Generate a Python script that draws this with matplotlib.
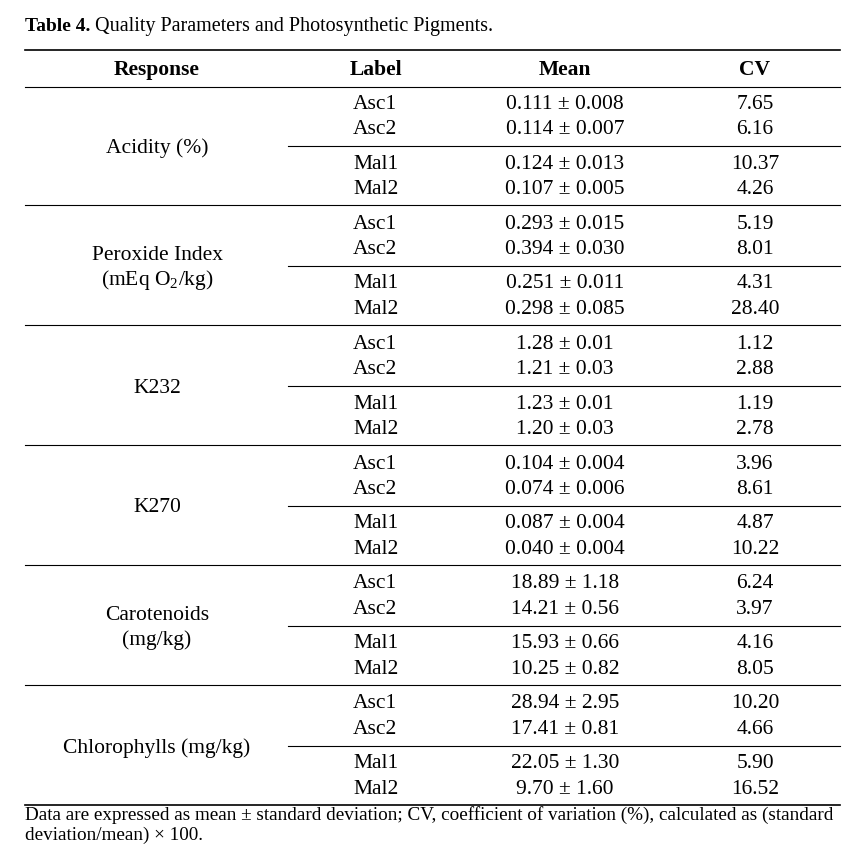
import matplotlib
matplotlib.use("Agg")
import matplotlib.pyplot as plt

plt.rcParams['font.family'] = ['Liberation Serif', 'DejaVu Serif']
plt.rcParams['mathtext.fontset'] = 'custom'
plt.rcParams['mathtext.rm'] = 'Liberation Serif'

responses = [["Acidity (%)"], ["Peroxide Index", "(mEq O$_2$/kg)"], ["K232"], ["K270"],
             ["Carotenoids", "(mg/kg)"], ["Chlorophylls (mg/kg)"]]
labels = ["Asc1", "Asc2", "Mal1", "Mal2"]
means = [
    ["0.111 ± 0.008", "0.114 ± 0.007", "0.124 ± 0.013", "0.107 ± 0.005"],
    ["0.293 ± 0.015", "0.394 ± 0.030", "0.251 ± 0.011", "0.298 ± 0.085"],
    ["1.28 ± 0.01", "1.21 ± 0.03", "1.23 ± 0.01", "1.20 ± 0.03"],
    ["0.104 ± 0.004", "0.074 ± 0.006", "0.087 ± 0.004", "0.040 ± 0.004"],
    ["18.89 ± 1.18", "14.21 ± 0.56", "15.93 ± 0.66", "10.25 ± 0.82"],
    ["28.94 ± 2.95", "17.41 ± 0.81", "22.05 ± 1.30", "9.70 ± 1.60"],
]
cvs = [
    ["7.65", "6.16", "10.37", "4.26"],
    ["5.19", "8.01", "4.31", "28.40"],
    ["1.12", "2.88", "1.19", "2.78"],
    ["3.96", "8.61", "4.87", "10.22"],
    ["6.24", "3.97", "4.16", "8.05"],
    ["10.20", "4.66", "5.90", "16.52"],
]
headers = ["Response", "Label", "Mean", "CV"]

W, H = 859, 849
fig = plt.figure(figsize=(W/100, H/100), dpi=100)
ax = fig.add_axes([0, 0, 1, 1])
ax.set_xlim(0, W); ax.set_ylim(H, 0); ax.axis('off')

fs = 15.5
dy = 2
ax.text(25, 24 + dy, "Table 4.", fontsize=14, fontweight='bold', va='center')
ax.text(95, 24 + dy, "Quality Parameters and Photosynthetic Pigments.", fontsize=14.5, va='center')
ax.plot([25, 840], [50, 50], color='black', lw=1.2)
hx = [157, 376, 565, 755]
for x, h in zip(hx, headers):
    ax.text(x, 68 + dy, h, fontsize=fs, fontweight='bold', ha='center', va='center')
ax.plot([25, 840], [87, 87], color='black', lw=0.8)

row_off = [102, 127, 162, 187]
for g in range(len(responses)):
    base = 120 * g
    resp = responses[g]
    if len(resp) == 1:
        ax.text(157, base + 146 + dy, resp[0], fontsize=fs, ha='center', va='center')
    else:
        ax.text(157, base + 133 + dy, resp[0], fontsize=fs, ha='center', va='center')
        ax.text(157, base + 158 + dy, resp[1], fontsize=fs, ha='center', va='center')
    for r in range(4):
        y = base + row_off[r] + dy
        ax.text(353, y, labels[r], fontsize=fs, ha='left', va='center')
        ax.text(565, y, means[g][r], fontsize=fs, ha='center', va='center')
        ax.text(755, y, cvs[g][r], fontsize=fs, ha='center', va='center')
    ax.plot([288, 840], [base + 146, base + 146], color='black', lw=0.8)
    ax.plot([25, 840], [base + 205, base + 205], color='black', lw=0.8 if g < 5 else 1.2)

ax.text(25, 815, "Data are expressed as mean ± standard deviation; CV, coefficient of variation (%), calculated as (standard",
        fontsize=13.8, va='center')
ax.text(25, 835, "deviation/mean) × 100.", fontsize=13.8, va='center')
fig.savefig("out.png", dpi=100, facecolor='white')
